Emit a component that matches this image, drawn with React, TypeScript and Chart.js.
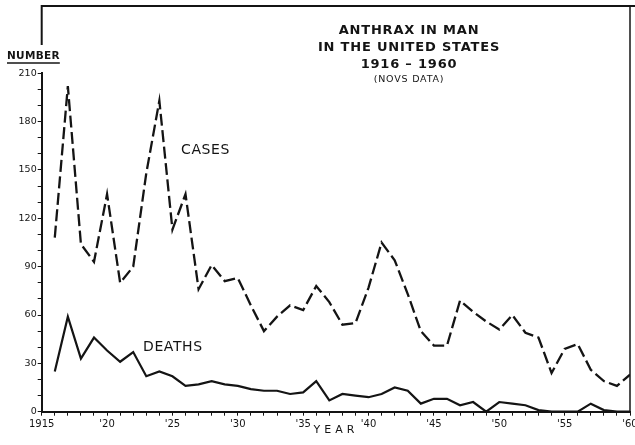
import React, { useEffect, useRef } from 'react';
import { Chart, registerables } from 'chart.js';

Chart.register(...registerables);

const years = [1916, 1917, 1918, 1919, 1920, 1921, 1922, 1923, 1924, 1925, 1926, 1927, 1928, 1929, 1930, 1931, 1932, 1933, 1934, 1935, 1936, 1937, 1938, 1939, 1940, 1941, 1942, 1943, 1944, 1945, 1946, 1947, 1948, 1949, 1950, 1951, 1952, 1953, 1954, 1955, 1956, 1957, 1958, 1959, 1960];
const cases = [108, 202, 104, 93, 135, 80, 90, 148, 193, 113, 135, 76, 91, 81, 83, 66, 50, 59, 66, 63, 78, 68, 54, 55, 77, 105, 94, 73, 50, 41, 41, 69, 62, 56, 51, 60, 49, 46, 24, 39, 42, 26, 19, 16, 23];
const deaths = [25, 59, 33, 46, 38, 31, 37, 22, 25, 22, 16, 17, 19, 17, 16, 14, 13, 13, 11, 12, 19, 7, 11, 10, 9, 11, 15, 13, 5, 8, 8, 4, 6, 0, 6, 5, 4, 1, 0, 0, 0, 5, 1, 0, 0];
const yLabelValues = [0, 30, 60, 90, 120, 150, 180, 210];
const xLabelYears = [1915, 1920, 1925, 1930, 1935, 1940, 1945, 1950, 1955, 1960];
const titleLines = ['ANTHRAX IN MAN', 'IN THE UNITED STATES', '1916 \u2013 1960'];
const subtitle = '(NOVS DATA)';

const INK = '#141414';
const FONT = '"DejaVu Sans", "Liberation Sans", sans-serif';

const textPlugin = {
  id: 'annotText',
  afterDraw(chart: any) {
    const ctx = chart.ctx as CanvasRenderingContext2D;
    const area = chart.chartArea;
    ctx.save();
    ctx.fillStyle = INK;
    ctx.strokeStyle = INK;
    // frame lines
    ctx.lineWidth = 2;
    ctx.beginPath();
    ctx.moveTo(area.left, 6);
    ctx.lineTo(635, 6);
    ctx.moveTo(area.left, 5);
    ctx.lineTo(area.left, 45);
    ctx.stroke();
    ctx.lineWidth = 1.5;
    ctx.beginPath();
    ctx.moveTo(area.right, 6);
    ctx.lineTo(area.right, area.bottom);
    ctx.stroke();
    // title
    ctx.textAlign = 'center';
    ctx.textBaseline = 'middle';
    (ctx as any).letterSpacing = '0.8px';
    ctx.font = `bold 13px ${FONT}`;
    const cx = 409;
    const ys = [31, 48, 65];
    titleLines.forEach((t, i) => ctx.fillText(t, cx, ys[i]));
    ctx.font = `9.5px ${FONT}`;
    ctx.fillText(subtitle, cx, 80);
    // NUMBER
    (ctx as any).letterSpacing = '0.3px';
    ctx.font = `bold 10.5px ${FONT}`;
    ctx.textAlign = 'left';
    ctx.fillText('NUMBER', 7, 56);
    const w = ctx.measureText('NUMBER').width;
    ctx.lineWidth = 1.5;
    ctx.beginPath();
    ctx.moveTo(7, 63);
    ctx.lineTo(7 + w, 63);
    ctx.stroke();
    // series labels
    (ctx as any).letterSpacing = '0.6px';
    ctx.font = `14px ${FONT}`;
    ctx.fillText('CASES', 181, 150);
    ctx.fillText('DEATHS', 143, 347);
    // YEAR
    ctx.font = `11px ${FONT}`;
    ctx.textAlign = 'center';
    (ctx as any).letterSpacing = '4px';
    ctx.fillText('YEAR', 336, 430);
    ctx.restore();
  },
};

export default function App() {
  const ref = useRef<HTMLCanvasElement>(null);
  useEffect(() => {
    document.body.style.margin = '0';
    const chart = new Chart(ref.current!, {
      type: 'line',
      data: {
        datasets: [
          {
            label: 'Cases',
            data: years.map((y, i) => ({ x: y, y: cases[i] })),
            borderColor: INK,
            borderWidth: 2.3,
            borderDash: [12, 4.5],
            pointRadius: 0,
            tension: 0,
            fill: false,
          },
          {
            label: 'Deaths',
            data: years.map((y, i) => ({ x: y, y: deaths[i] })),
            borderColor: INK,
            borderWidth: 2.2,
            pointRadius: 0,
            tension: 0,
            fill: false,
          },
        ],
      },
      options: {
        animation: false,
        responsive: false,
        maintainAspectRatio: false,
        layout: { padding: { top: 73.3, right: 5, left: 0, bottom: 0 } },
        plugins: { legend: { display: false }, tooltip: { enabled: false }, title: { display: false } },
        scales: {
          x: {
            type: 'linear',
            min: 1915,
            max: 1960,
            border: { display: true, color: INK, width: 2 },
            grid: { drawOnChartArea: false, drawTicks: true, tickLength: 4, color: INK, lineWidth: 1 },
            ticks: {
              stepSize: 1,
              autoSkip: false,
              maxRotation: 0,
              padding: 3,
              color: INK,
              font: { family: FONT, size: 10 },
              callback: (v: any) => {
                const n = Number(v);
                if (!xLabelYears.includes(n)) return '';
                return n === 1915 ? '1915' : "'" + String(n).slice(2);
              },
            },
            afterFit: (s: any) => {
              s.height = 33.3;
              s.paddingLeft = 0;
              s.paddingRight = 0;
            },
          },
          y: {
            min: 0,
            max: 210,
            border: { display: true, color: INK, width: 2 },
            grid: { drawOnChartArea: false, drawTicks: true, tickLength: 4, color: INK, lineWidth: 1 },
            ticks: {
              stepSize: 10,
              autoSkip: false,
              padding: 1,
              color: INK,
              font: { family: FONT, size: 9.5 },
              callback: (v: any) => (yLabelValues.includes(Number(v)) ? String(v) : ''),
            },
            afterFit: (s: any) => {
              s.width = 41.7;
            },
          },
        },
      },
      plugins: [textPlugin],
    });
    return () => chart.destroy();
  }, []);
  return (
    <div style={{ position: 'absolute', left: 0, top: 0, width: 635, height: 445, background: '#fff' }}>
      <canvas ref={ref} width={635} height={445} style={{ width: 635, height: 445 }} />
    </div>
  );
}
